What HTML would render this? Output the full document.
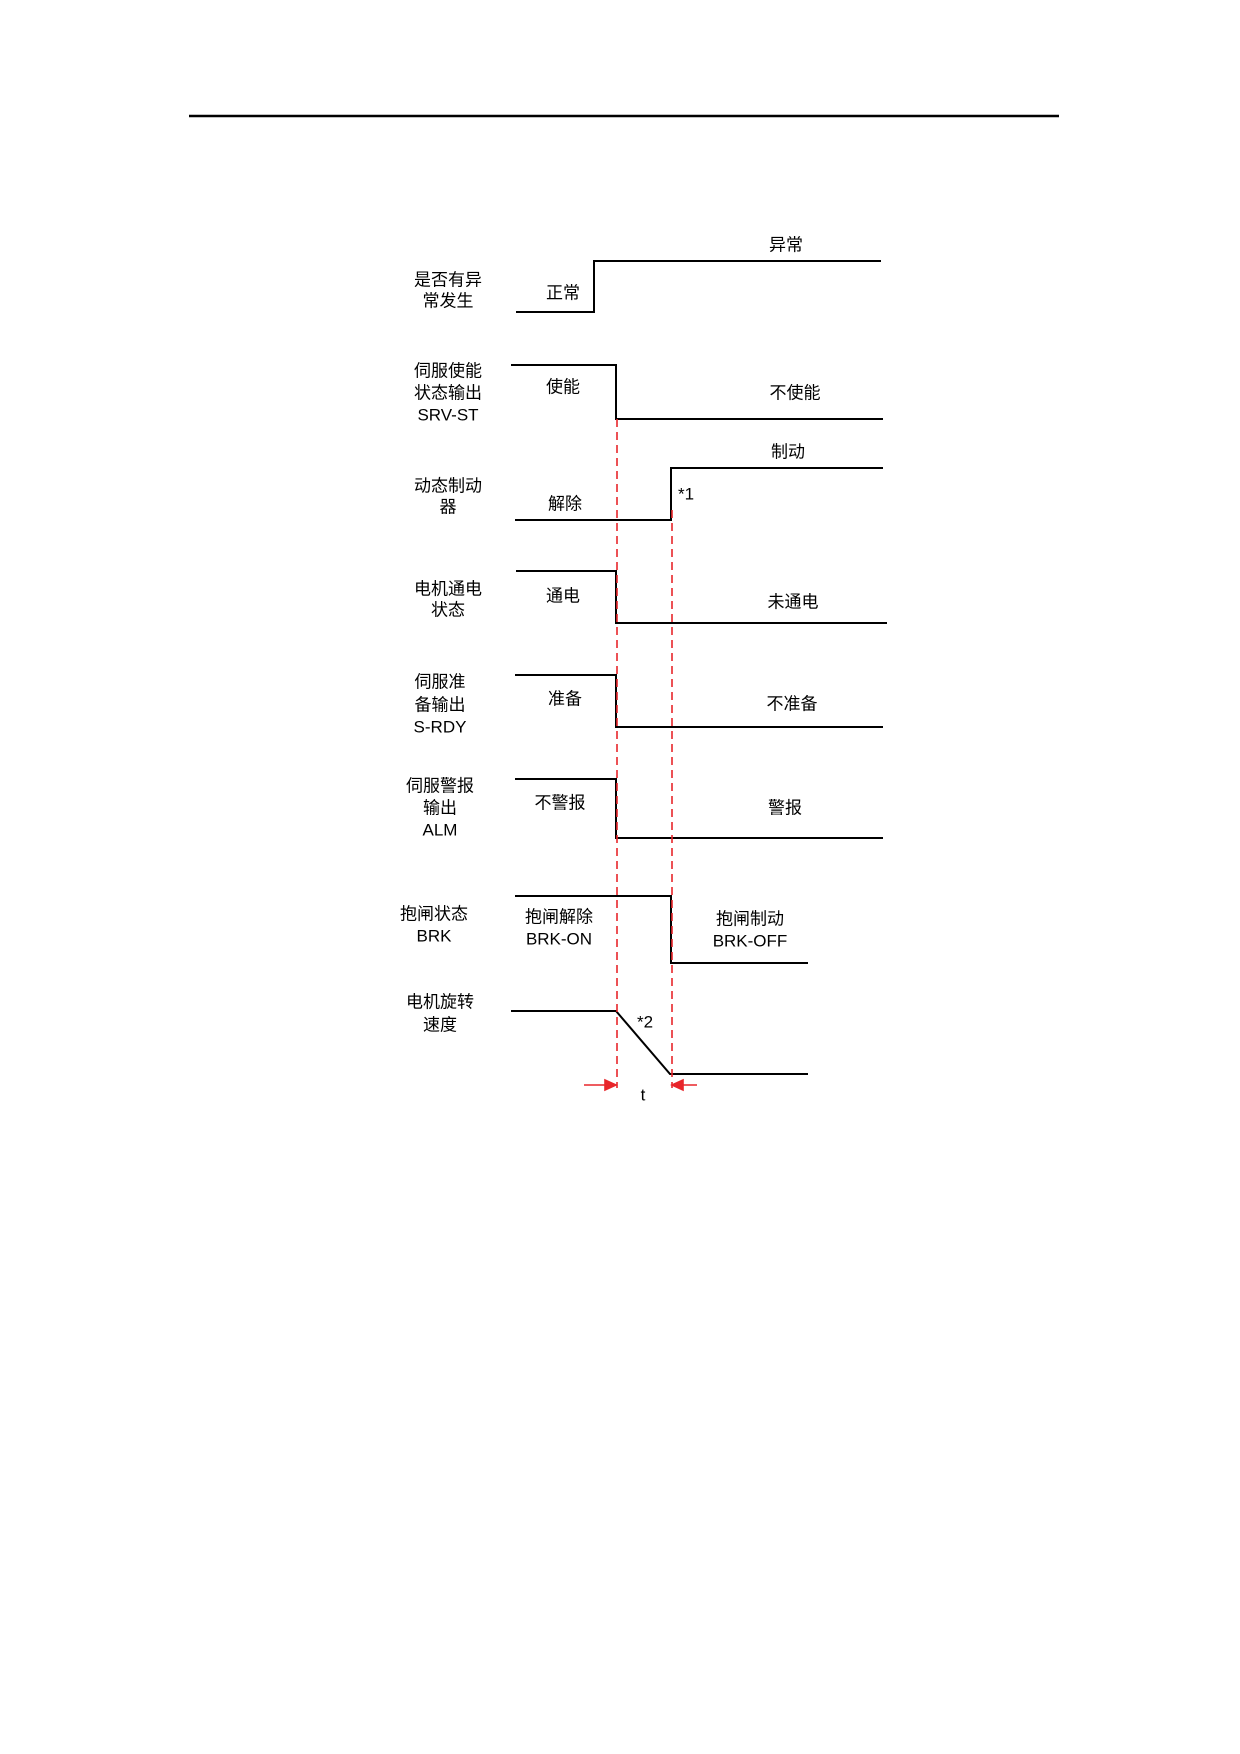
<!DOCTYPE html>
<html><head><meta charset="utf-8"><style>
html,body{margin:0;padding:0;background:#fff}
svg{display:block}
text{font-family:"Liberation Sans","Noto Sans CJK SC",sans-serif;font-size:17px;fill:#000;text-anchor:middle;dominant-baseline:central}
</style></head><body>
<svg width="1240" height="1754" viewBox="0 0 1240 1754" xmlns="http://www.w3.org/2000/svg">
<line x1="189" y1="116" x2="1059" y2="116" stroke="#000" stroke-width="2.5"/>
<g fill="none" stroke="#000" stroke-width="2">
<polyline points="516,312 594,312 594,261 881,261"/>
<polyline points="511,365 616,365 616,419 883,419"/>
<polyline points="515,520 671,520 671,468 883,468"/>
<polyline points="516,571 616,571 616,623 887,623"/>
<polyline points="515,675 616,675 616,727 883,727"/>
<polyline points="515,779 616,779 616,838 883,838"/>
<polyline points="515,896 671,896 671,963 808,963"/>
<polyline points="511,1011 616,1011 670,1074 808,1074"/>
</g>
<g stroke="#e8262b" stroke-width="1.6" stroke-dasharray="8,5">
<line x1="617" y1="419" x2="617" y2="1088"/>
<line x1="672" y1="510" x2="672" y2="1088"/>
</g>
<g stroke="#e8262b" stroke-width="1.6" fill="#e8262b">
<line x1="584" y1="1085" x2="610" y2="1085"/>
<polygon points="616,1085 605,1080 605,1090"/>
<line x1="697" y1="1085" x2="678" y2="1085"/>
<polygon points="672,1085 683,1080 683,1090"/>
</g>
<text x="448" y="280">是否有异</text>
<text x="448" y="301">常发生</text>
<text x="563" y="293">正常</text>
<text x="786" y="245">异常</text>
<text x="448" y="371">伺服使能</text>
<text x="448" y="393">状态输出</text>
<text x="448" y="415">SRV-ST</text>
<text x="563" y="387">使能</text>
<text x="795" y="393">不使能</text>
<text x="788" y="452">制动</text>
<text x="448" y="486">动态制动</text>
<text x="448" y="507">器</text>
<text x="686" y="494">*1</text>
<text x="565" y="504">解除</text>
<text x="448" y="589">电机通电</text>
<text x="448" y="610">状态</text>
<text x="563" y="596">通电</text>
<text x="793" y="602">未通电</text>
<text x="440" y="682">伺服准</text>
<text x="440" y="705">备输出</text>
<text x="440" y="727">S-RDY</text>
<text x="565" y="699">准备</text>
<text x="792" y="704">不准备</text>
<text x="440" y="786">伺服警报</text>
<text x="440" y="808">输出</text>
<text x="440" y="830">ALM</text>
<text x="560" y="803">不警报</text>
<text x="785" y="808">警报</text>
<text x="434" y="914">抱闸状态</text>
<text x="434" y="936">BRK</text>
<text x="559" y="917">抱闸解除</text>
<text x="559" y="939">BRK-ON</text>
<text x="750" y="919">抱闸制动</text>
<text x="750" y="941">BRK-OFF</text>
<text x="440" y="1002">电机旋转</text>
<text x="440" y="1025">速度</text>
<text x="645" y="1022">*2</text>
<text x="643" y="1095">t</text>
</svg>
</body></html>
